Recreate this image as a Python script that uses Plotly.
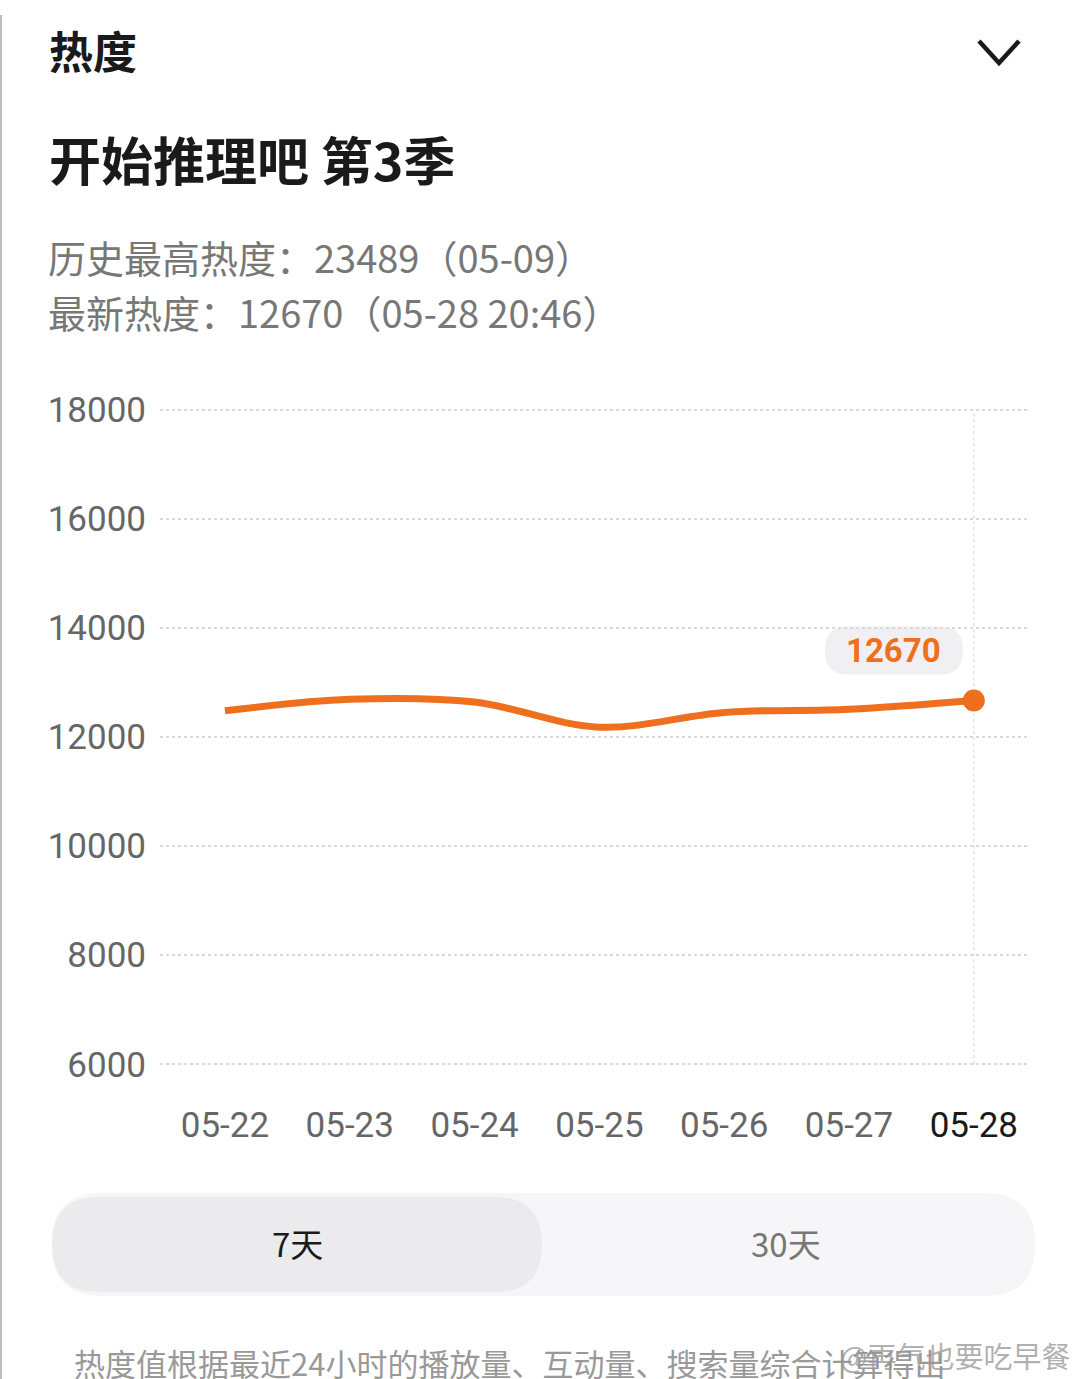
import plotly.graph_objects as go

# ---- data ----
dates = ["05-22", "05-23", "05-24", "05-25", "05-26", "05-27", "05-28"]
heat = [12480, 12690, 12640, 12180, 12450, 12510, 12670]
y_ticks = [6000, 8000, 10000, 12000, 14000, 16000, 18000]

W, H = 1080, 1379
L, R, T, B = 160, 50, 407, 312
PW, PH = W - L - R, H - T - B

def px(xp):
    return (xp - L) / PW

def py(yp):
    return (H - B - yp) / PH

ORANGE = "#EF6F1E"
CJK = "Noto Sans CJK SC"

fig = go.Figure()
fig.add_trace(go.Scatter(
    x=dates, y=heat, mode="lines",
    line=dict(color=ORANGE, width=7, shape="spline", smoothing=1.0),
    hoverinfo="skip", showlegend=False,
))
fig.add_trace(go.Scatter(
    x=[dates[-1]], y=[heat[-1]], mode="markers",
    marker=dict(color=ORANGE, size=22),
    hoverinfo="skip", showlegend=False,
))

ticktext = [f"<span style='color:#666666'>{d}</span>" for d in dates[:-1]] + \
           [f"<span style='color:#1a1a1a'>{dates[-1]}</span>"]

fig.update_layout(
    width=W, height=H,
    margin=dict(l=L, r=R, t=T, b=B),
    paper_bgcolor="white", plot_bgcolor="white",
    font=dict(family=f"Roboto, {CJK}", color="#666666"),
    xaxis=dict(
        type="category", range=[-0.52, 6.45],
        tickmode="array", tickvals=dates, ticktext=ticktext,
        showgrid=False, zeroline=False, showline=False,
        ticks="outside", ticklen=27, tickcolor="rgba(0,0,0,0)",
        tickfont=dict(size=35, family="Roboto"),
    ),
    yaxis=dict(
        range=[5950, 18050], tickvals=y_ticks, tickformat="d",
        showgrid=True, gridcolor="#d9d9d9", gridwidth=2, griddash="dot",
        zeroline=False, showline=False,
        ticks="outside", ticklen=6, tickcolor="rgba(0,0,0,0)",
        tickfont=dict(size=35, family="Roboto", color="#666666"),
    ),
)

shapes = []
# vertical guide at latest date
shapes.append(dict(type="line", xref="x", yref="y",
                   x0=len(dates) - 1, x1=len(dates) - 1, y0=y_ticks[0], y1=y_ticks[-1],
                   line=dict(color="#e2e2e2", width=1.5, dash="dot"), layer="below"))

# value bubble anchored at last point
bw, bh, br, bdx, bdy = 138, 48, 23, -80, 50
x0b, x1b = bdx - bw / 2, bdx + bw / 2
y0b, y1b = bdy - bh / 2, bdy + bh / 2
bubble = (f"M{x0b+br},{y0b} L{x1b-br},{y0b} Q{x1b},{y0b} {x1b},{y0b+br} "
          f"L{x1b},{y1b-br} Q{x1b},{y1b} {x1b-br},{y1b} L{x0b+br},{y1b} "
          f"Q{x0b},{y1b} {x0b},{y1b-br} L{x0b},{y0b+br} Q{x0b},{y0b} {x0b+br},{y0b} Z")
shapes.append(dict(type="path", xref="x", yref="y", xsizemode="pixel", ysizemode="pixel",
                   xanchor=len(dates) - 1, yanchor=heat[-1], path=bubble,
                   fillcolor="#f0f0f2", line=dict(width=0), layer="below"))

def rrect(x0, y0, x1, y1, r, fill):
    pts = (f"M{px(x0+r)},{py(y0)} L{px(x1-r)},{py(y0)} Q{px(x1)},{py(y0)} {px(x1)},{py(y0+r)} "
           f"L{px(x1)},{py(y1-r)} Q{px(x1)},{py(y1)} {px(x1-r)},{py(y1)} L{px(x0+r)},{py(y1)} "
           f"Q{px(x0)},{py(y1)} {px(x0)},{py(y1-r)} L{px(x0)},{py(y0+r)} Q{px(x0)},{py(y0)} {px(x0+r)},{py(y0)} Z")
    return dict(type="path", xref="paper", yref="paper", path=pts,
                fillcolor=fill, line=dict(width=0), layer="below")

# toggle bar
shapes.append(rrect(52, 1193, 1035, 1296, 50, "#f6f6f8"))
shapes.append(rrect(52, 1197, 542, 1292, 47, "#ebebed"))
# chevron
shapes.append(dict(type="path", xref="paper", yref="paper",
                   path=f"M{px(979)},{py(41)} L{px(999)},{py(63)} L{px(1019)},{py(41)}",
                   line=dict(color="#1a1a1a", width=4.5)))
# card left edge
shapes.append(dict(type="line", xref="paper", yref="paper",
                   x0=px(1), x1=px(1), y0=py(15), y1=py(1379),
                   line=dict(color="#bdbdbd", width=2)))

fig.update_layout(shapes=shapes)

ann = []
def text(xp, yp, s, size, color, bold=False, xanchor="left", family=CJK):
    if bold:
        s = f"<b>{s}</b>"
    ann.append(dict(x=px(xp), y=py(yp), xref="paper", yref="paper", text=s,
                    showarrow=False, xanchor=xanchor, yanchor="middle",
                    font=dict(size=size, color=color, family=family)))

text(47, 50, "热度", 44, "#1a1a1a", bold=True)
text(47, 158, "开始推理吧 第3季", 52, "#1a1a1a", bold=True)
text(46, 256, "历史最高热度：23489（05-09）", 38, "#777777")
text(46, 311, "最新热度：12670（05-28 20:46）", 38, "#777777")
text(297, 1243, "7天", 33, "#1a1a1a", xanchor="center")
text(786, 1243, "30天", 33, "#777777", xanchor="center")
text(72, 1362, "热度值根据最近24小时的播放量、互动量、搜索量综合计算得出", 31, "#999999")
text(1072, 1355, "@再气也要吃早餐", 29, "rgba(150,150,150,0.75)", xanchor="right")

# value label
ann.append(dict(x=len(dates) - 1, y=heat[-1], xref="x", yref="y",
                text=f"<b>{heat[-1]}</b>", showarrow=False,
                xshift=-80, yshift=50,
                font=dict(size=33, color=ORANGE, family="Roboto")))

fig.update_layout(annotations=ann)

fig.write_html("out.html", config={"displayModeBar": False},
               post_script="document.body.style.margin='0';")
